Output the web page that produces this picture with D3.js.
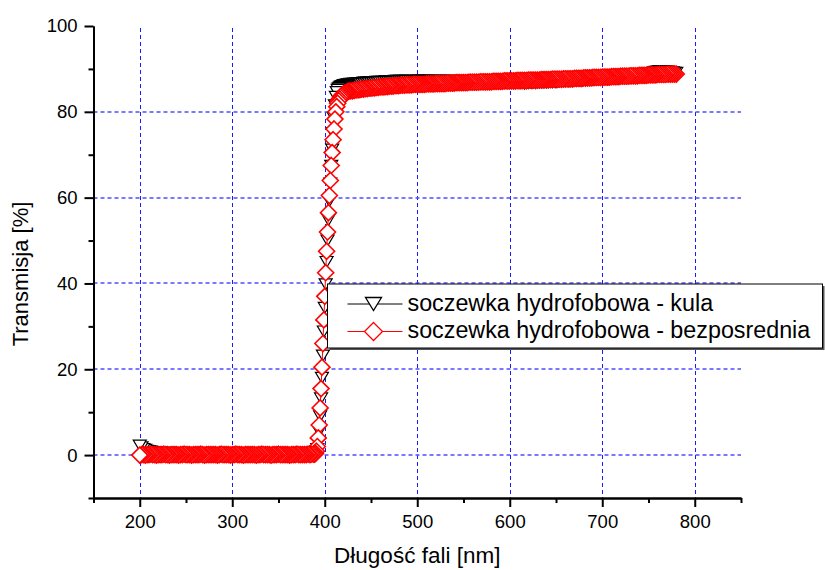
<!DOCTYPE html>
<html>
<head>
<meta charset="utf-8" />
<title>Transmisja</title>
<style>
* { padding: 0; margin: 0; }
body { background: #fff; }
#chart { width: 825px; height: 570px; }
text { font-family: "Liberation Sans", Arial, sans-serif; fill: #000; }
</style>
</head>
<body>
<div id="chart"></div>
<script src="https://cdn.jsdelivr.net/npm/d3@7/dist/d3.min.js"></script>
<script>
// sampling grid [nm]: 2 nm on the flat parts, 1 nm across the edge
var lowWl = d3.range(200, 389, 2)
var riseWl = d3.range(389, 426, 1)
var plateauWl = d3.range(426, 781, 2)

// soczewka hydrofobowa - kula [%]
var kulaLow = [
    2.2,1.8,1.4,1.2,1.0,0.9,0.8,0.7,0.6,0.6,0.5,0.5,0.5,0.4,0.4,0.4,0.5,0.4,0.4,0.4,
    0.4,0.3,0.4,0.4,0.4,0.3,0.4,0.4,0.3,0.4,0.4,0.4,0.3,0.4,0.4,0.3,0.4,0.4,0.4,0.3,
    0.4,0.4,0.3,0.4,0.4,0.4,0.3,0.4,0.4,0.4,0.4,0.3,0.4,0.4,0.3,0.4,0.4,0.4,0.3,0.4,
    0.4,0.3,0.4,0.4,0.4,0.4,0.3,0.4,0.4,0.3,0.4,0.4,0.4,0.4,0.3,0.4,0.4,0.3,0.4,0.4,
    0.3,0.4,0.4,0.4,0.3,0.4,0.4,0.4,0.4,0.3,0.4,0.4,0.4,0.4,0.4
]
var kulaRise = [
    0.4,0.5,0.8,1.4,3.0,5.5,9.0,13.2,18.0,23.2,
    28.8,34.3,39.8,45.0,50.0,54.8,59.2,63.3,67.4,71.2,
    75.0,78.5,81.5,83.5,84.6,85.1,85.4,85.6,85.8,85.9,
    86.0,86.1,86.2,86.2,86.3,86.3,86.4
]
var kulaPlateau = [
    86.4,86.5,86.5,86.6,86.6,86.7,86.7,86.7,86.8,86.8,
    86.8,86.9,86.9,86.9,86.9,87.0,87.0,87.0,87.0,87.0,
    87.1,87.1,87.1,87.1,87.1,87.2,87.2,87.2,87.2,87.2,
    87.1,87.2,87.1,87.2,87.2,87.2,87.2,87.2,87.2,87.2,
    87.2,87.2,87.2,87.2,87.2,87.1,87.2,87.2,87.1,87.2,
    87.2,87.2,87.1,87.2,87.1,87.2,87.1,87.1,87.2,87.1,
    87.1,87.0,87.1,87.1,87.0,87.1,87.0,87.0,87.1,87.0,
    87.0,87.0,86.9,87.0,86.9,86.9,87.0,86.9,86.9,86.8,
    86.9,86.8,86.8,86.8,86.7,86.8,86.7,86.7,86.8,86.7,
    86.7,86.8,86.7,86.7,86.8,86.6,86.7,86.7,86.8,86.7,
    86.8,86.7,86.8,86.9,86.8,86.8,86.9,86.8,86.9,87.0,
    86.9,87.0,86.9,87.0,87.1,87.0,87.1,87.1,87.2,87.1,
    87.2,87.1,87.3,87.2,87.3,87.3,87.2,87.4,87.3,87.4,
    87.4,87.5,87.4,87.5,87.5,87.6,87.5,87.6,87.6,87.7,
    87.6,87.7,87.7,87.8,87.7,87.8,87.8,87.9,87.8,87.9,
    87.9,88.0,87.9,88.0,88.1,88.1,88.2,88.2,88.3,88.4,
    88.5,88.6,88.7,88.8,89.0,89.2,89.3,89.4,89.5,89.5,
    89.5,89.4,89.4,89.3,89.2,89.2,89.1,89.1
]

// soczewka hydrofobowa - bezposrednia [%]
var bezLow = [
    0.0,0.1,0.1,0.0,0.1,0.1,0.2,0.1,0.1,0.0,0.1,0.1,0.1,0.2,0.1,0.1,0.0,0.1,0.1,0.1,
    0.1,0.0,0.1,0.1,0.2,0.1,0.1,0.1,0.0,0.1,0.1,0.1,0.1,0.2,0.1,0.0,0.1,0.1,0.1,0.1,
    0.1,0.1,0.0,0.1,0.2,0.1,0.1,0.1,0.1,0.0,0.1,0.1,0.2,0.1,0.1,0.1,0.0,0.1,0.1,0.1,
    0.1,0.1,0.1,0.0,0.1,0.1,0.2,0.1,0.1,0.1,0.1,0.0,0.1,0.1,0.1,0.2,0.1,0.1,0.1,0.1,
    0.1,0.0,0.1,0.1,0.1,0.2,0.1,0.1,0.1,0.1,0.1,0.2,0.1,0.2,0.2
]
var bezRise = [
    0.2,0.4,0.9,2.0,4.0,7.0,11.0,15.5,20.5,26.0,
    31.5,37.0,42.5,47.5,52.0,56.5,60.5,64.0,67.5,70.5,
    73.5,76.0,78.3,80.0,81.2,82.0,82.6,83.0,83.4,83.7,
    83.9,84.1,84.2,84.4,84.5,84.6,84.7
]
var bezPlateau = [
    84.8,84.9,84.9,85.0,85.1,85.1,85.2,85.3,85.3,85.4,
    85.4,85.5,85.5,85.6,85.6,85.7,85.7,85.8,85.8,85.8,
    85.9,85.9,86.0,86.0,86.0,86.1,86.1,86.1,86.2,86.2,
    86.2,86.3,86.3,86.3,86.3,86.4,86.4,86.4,86.4,86.4,
    86.4,86.4,86.5,86.5,86.5,86.5,86.5,86.6,86.6,86.6,
    86.6,86.6,86.6,86.7,86.7,86.7,86.7,86.7,86.8,86.8,
    86.8,86.8,86.8,86.8,86.8,86.9,86.9,86.9,86.9,86.9,
    86.9,87.0,87.0,87.0,87.0,87.0,87.0,87.0,87.1,87.1,
    87.1,87.1,87.1,87.1,87.2,87.2,87.2,87.2,87.2,87.2,
    87.2,87.3,87.3,87.3,87.3,87.3,87.3,87.4,87.4,87.4,
    87.4,87.4,87.4,87.4,87.5,87.5,87.5,87.5,87.5,87.5,
    87.6,87.6,87.6,87.6,87.6,87.6,87.7,87.7,87.7,87.7,
    87.7,87.7,87.8,87.8,87.8,87.8,87.8,87.9,87.9,87.9,
    87.9,87.9,88.0,88.0,88.0,88.0,88.0,88.1,88.1,88.1,
    88.1,88.1,88.2,88.2,88.2,88.2,88.2,88.3,88.3,88.3,
    88.3,88.3,88.4,88.4,88.4,88.4,88.4,88.5,88.5,88.5,
    88.5,88.5,88.6,88.6,88.6,88.6,88.6,88.7,88.7,88.7,
    88.7,88.7,88.8,88.8,88.8,88.8,88.8,88.8
]

var xTicks = [200, 300, 400, 500, 600, 700, 800]
var xMinor = [150, 250, 350, 450, 550, 650, 750, 850]
var yTicks = [0, 20, 40, 60, 80, 100]
var yMinor = [-10, 10, 30, 50, 70, 90]
var xGrid = [200, 300, 400, 500, 600, 700, 800]
var yGrid = [0, 20, 40, 60, 80]
var seriesNames = ["soczewka hydrofobowa - kula", "soczewka hydrofobowa - bezposrednia"]

var width = 825, height = 570
var svg = d3.select("#chart").append("svg").attr("width", width).attr("height", height)

var x = d3.scaleLinear().domain([150, 850]).range([93.5, 741])
var y = d3.scaleLinear().domain([-10, 100]).range([498, 26])

function join(wls, vals) {
    return wls.map(function(w, i) { return { x: w, y: vals[i] } })
}
var wl = lowWl.concat(riseWl, plateauWl)
var kula = join(wl, kulaLow.concat(kulaRise, kulaPlateau))
var bez = join(wl, bezLow.concat(bezRise, bezPlateau))

function triangle(w, h) {
    return "M" + (-w / 2) + "," + (-h / 2) + "L" + (w / 2) + "," + (-h / 2) + "L0," + (h / 2) + "Z"
}
function diamond(r) {
    return "M0," + (-r) + "L" + r + ",0L0," + r + "L" + (-r) + ",0Z"
}

// grid
var grid = svg.append("g")
grid.selectAll(".gx").data(xGrid).enter().append("line")
    .attr("x1", function(d) { return Math.round(x(d)) + 0.5 })
    .attr("x2", function(d) { return Math.round(x(d)) + 0.5 })
    .attr("y1", y(100) + 2).attr("y2", y(-10))
    .attr("stroke", "#1a1aff").attr("stroke-width", 1).attr("stroke-dasharray", "4,3")
grid.selectAll(".gy").data(yGrid).enter().append("line")
    .attr("x1", x(150)).attr("x2", x(850))
    .attr("y1", function(d) { return Math.round(y(d)) }).attr("y2", function(d) { return Math.round(y(d)) })
    .attr("stroke", "#4d4dff").attr("stroke-width", 1.3).attr("stroke-dasharray", "4,3")

var line = d3.line().x(function(d) { return x(d.x) }).y(function(d) { return y(d.y) })

function drawSeries(data, color, shape, sw) {
    var g = svg.append("g")
    g.append("path").datum(data).attr("d", line)
        .attr("fill", "none").attr("stroke", color).attr("stroke-width", 1)
    // later points first so the first symbols stay on top
    g.selectAll("path.sym").data(data.slice().reverse()).enter().append("path")
        .attr("class", "sym")
        .attr("d", shape)
        .attr("transform", function(d) { return "translate(" + x(d.x) + "," + y(d.y) + ")" })
        .attr("fill", "#fff").attr("stroke", color).attr("stroke-width", sw)
}
drawSeries(kula, "#000", triangle(13, 11), 1.2)
drawSeries(bez, "#ff0000", diamond(8), 1.6)

// axes
var xAxis = svg.append("g").attr("transform", "translate(0," + y(-10) + ")")
    .call(d3.axisBottom(x).tickValues(xTicks).tickSize(9).tickSizeOuter(0).tickPadding(8))
var xAxisMinor = svg.append("g").attr("transform", "translate(0," + y(-10) + ")")
    .call(d3.axisBottom(x).tickValues(xMinor).tickSize(5).tickSizeOuter(0).tickFormat(""))
var yAxis = svg.append("g").attr("transform", "translate(" + x(150) + ",0)")
    .call(d3.axisLeft(y).tickValues(yTicks).tickSize(9).tickSizeOuter(0).tickPadding(7))
var yAxisMinor = svg.append("g").attr("transform", "translate(" + x(150) + ",0)")
    .call(d3.axisLeft(y).tickValues(yMinor).tickSize(5).tickSizeOuter(0).tickFormat(""))

;[xAxis, xAxisMinor, yAxis, yAxisMinor].forEach(function(a) {
    a.select(".domain").attr("stroke", "#000").attr("stroke-width", 2)
    a.selectAll(".tick line").attr("stroke", "#000").attr("stroke-width", 2)
    a.selectAll("text").attr("font-family", "Liberation Sans, Arial, sans-serif")
        .attr("font-size", 18.5).attr("fill", "#000")
})

svg.append("text").attr("x", (x(150) + x(850)) / 2).attr("y", 563)
    .attr("text-anchor", "middle").attr("font-size", 22.5).text("Długość fali [nm]")
svg.append("text").attr("transform", "translate(28," + 274 + ") rotate(-90)")
    .attr("text-anchor", "middle").attr("font-size", 22).text("Transmisja [%]")

// legend
var lg = svg.append("g").attr("transform", "translate(327.5,284)")
lg.append("rect").attr("x", 2).attr("y", 2).attr("width", 495).attr("height", 64).attr("fill", "#555")
lg.append("rect").attr("width", 495).attr("height", 64)
    .attr("fill", "#fff").attr("stroke", "#000").attr("stroke-width", 1)
var legendItems = [
    { name: seriesNames[0], color: "#000", shape: triangle(16, 13), cy: 20 },
    { name: seriesNames[1], color: "#ff0000", shape: diamond(9), cy: 47.5 }
]
legendItems.forEach(function(it) {
    lg.append("line").attr("x1", 20).attr("x2", 75).attr("y1", it.cy).attr("y2", it.cy)
        .attr("stroke", it.color).attr("stroke-width", 1)
    lg.append("path").attr("d", it.shape).attr("transform", "translate(46," + it.cy + ")")
        .attr("fill", "#fff").attr("stroke", it.color).attr("stroke-width", 1.3)
    lg.append("text").attr("x", 80).attr("y", it.cy + 6.5).attr("font-size", 23.3).text(it.name)
})
</script>
</body>
</html>
